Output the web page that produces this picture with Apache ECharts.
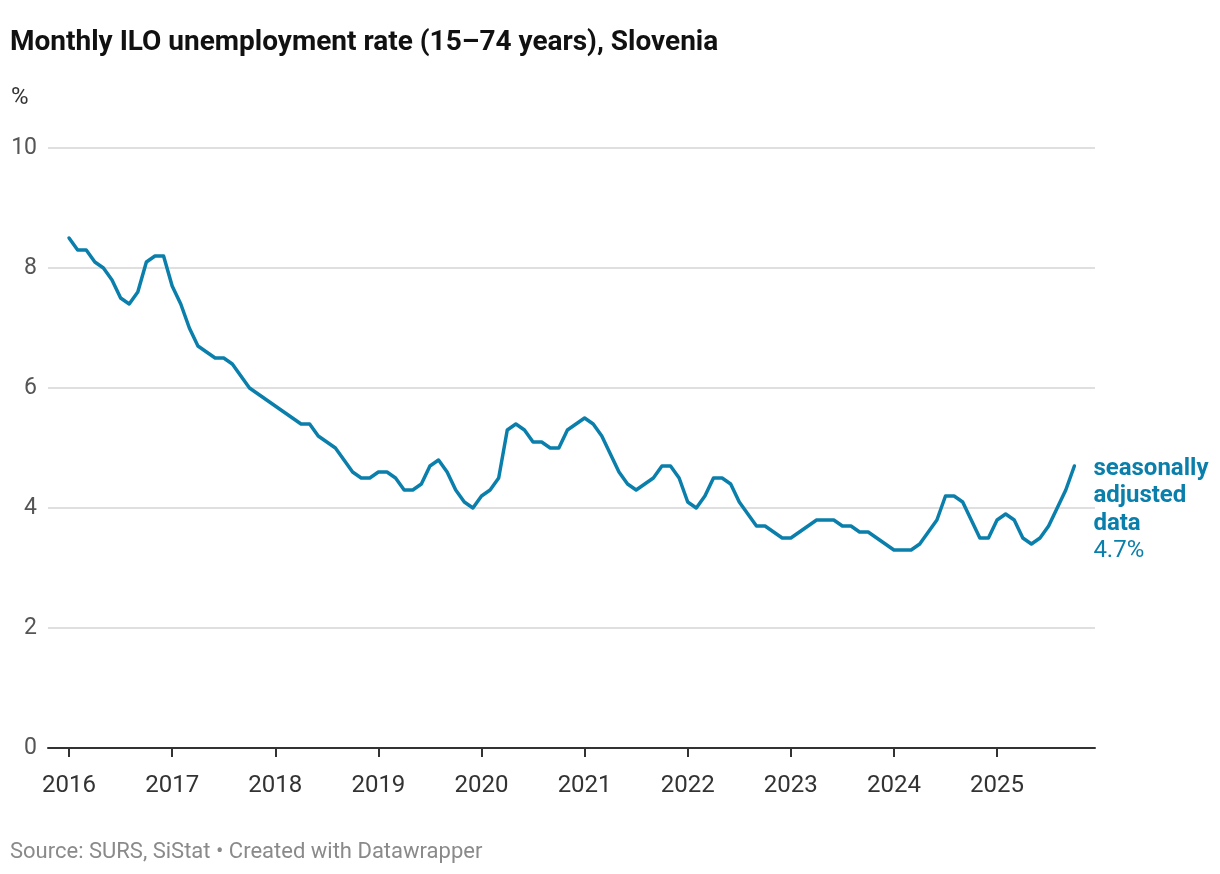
<!DOCTYPE html>
<html>
<head>
<meta charset="utf-8">
<script src="https://cdn.jsdelivr.net/npm/echarts@6/dist/echarts.min.js"></script>
<style>
html,body{margin:0;padding:0;background:#fff;}
#c{width:1220px;height:874px;}
</style>
</head>
<body>
<div id="c"></div>
<script>
// Monthly ILO unemployment rate, seasonally adjusted, Jan 2016 – Oct 2025
var startYear = 2016;
var rates2016 = [8.5, 8.3, 8.3, 8.1, 8.0, 7.8, 7.5, 7.4, 7.6, 8.1, 8.2, 8.2];
var rates2017 = [7.7, 7.4, 7.0, 6.7, 6.6, 6.5, 6.5, 6.4, 6.2, 6.0, 5.9, 5.8];
var rates2018 = [5.7, 5.6, 5.5, 5.4, 5.4, 5.2, 5.1, 5.0, 4.8, 4.6, 4.5, 4.5];
var rates2019 = [4.6, 4.6, 4.5, 4.3, 4.3, 4.4, 4.7, 4.8, 4.6, 4.3, 4.1, 4.0];
var rates2020 = [4.2, 4.3, 4.5, 5.3, 5.4, 5.3, 5.1, 5.1, 5.0, 5.0, 5.3, 5.4];
var rates2021 = [5.5, 5.4, 5.2, 4.9, 4.6, 4.4, 4.3, 4.4, 4.5, 4.7, 4.7, 4.5];
var rates2022 = [4.1, 4.0, 4.2, 4.5, 4.5, 4.4, 4.1, 3.9, 3.7, 3.7, 3.6, 3.5];
var rates2023 = [3.5, 3.6, 3.7, 3.8, 3.8, 3.8, 3.7, 3.7, 3.6, 3.6, 3.5, 3.4];
var rates2024 = [3.3, 3.3, 3.3, 3.4, 3.6, 3.8, 4.2, 4.2, 4.1, 3.8, 3.5, 3.5];
var rates2025 = [3.8, 3.9, 3.8, 3.5, 3.4, 3.5, 3.7, 4.0, 4.3, 4.7];
var yearLabels = ['2016','2017','2018','2019','2020','2021','2022','2023','2024','2025'];
var yTicks = [0, 2, 4, 6, 8, 10];

var allRates = [].concat(rates2016, rates2017, rates2018, rates2019, rates2020,
  rates2021, rates2022, rates2023, rates2024, rates2025);
var seriesData = allRates.map(function (v, i) { return [i, v]; });
var yearTickValues = yearLabels.map(function (y) { return (parseInt(y, 10) - startYear) * 12; });

var FONT = 'Roboto, "Noto Sans", sans-serif';
var BLUE = '#0a7fab';

var chart = echarts.init(document.getElementById('c'), null, {renderer: 'canvas'});
chart.setOption({
  animation: false,
  backgroundColor: '#ffffff',
  textStyle: {fontFamily: FONT},
  title: [
    {text: 'Monthly ILO unemployment rate (15–74 years), Slovenia', left: 10, top: 29, padding: 0,
      textStyle: {fontFamily: FONT, fontSize: 28, fontWeight: 'bold', color: '#111'}},
    {text: '%', left: 11, top: 86, padding: 0,
      textStyle: {fontFamily: FONT, fontSize: 24, fontWeight: 'normal', color: '#333'}},
    {text: 'Source: SURS, SiStat • Created with Datawrapper', left: 10, top: 841, padding: 0,
      textStyle: {fontFamily: FONT, fontSize: 22, fontWeight: 'normal', color: '#8a8a8a'}}
  ],
  grid: {left: 48, right: 125, top: 148, bottom: 126, containLabel: false},
  xAxis: {
    type: 'value',
    min: -2.45,
    max: 119.4,
    axisLine: {show: true, lineStyle: {color: '#333', width: 2}},
    axisTick: {show: true, length: 9, lineStyle: {color: '#333', width: 2},
      customValues: yearTickValues},
    axisLabel: {show: true, customValues: yearTickValues, margin: 26,
      fontFamily: FONT, fontSize: 24, color: '#333',
      formatter: function (v) { return yearLabels[Math.round(v / 12)] || ''; }},
    splitLine: {show: false}
  },
  yAxis: {
    type: 'value',
    min: 0,
    max: 10,
    interval: 2,
    axisLine: {show: false},
    axisTick: {show: false},
    axisLabel: {margin: 11, fontFamily: FONT, fontSize: 23, color: '#555',
      formatter: function (v) { return yTicks.indexOf(v) >= 0 ? String(v) : ''; }},
    splitLine: {show: true, lineStyle: {color: '#d4d4d4', width: 1.5}}
  },
  series: [{
    type: 'line',
    data: seriesData,
    showSymbol: false,
    symbol: 'none',
    lineStyle: {color: BLUE, width: 3.5, join: 'round', cap: 'round'},
    itemStyle: {color: BLUE},
    z: 5,
    endLabel: {
      show: true,
      offset: [11, -11],
      align: 'left',
      verticalAlign: 'top',
      formatter: function (p) {
        return '{b|seasonally}\n{b|adjusted}\n{b|data}\n{n|' + p.value[1].toFixed(1) + '%}';
      },
      rich: {
        b: {fontFamily: FONT, fontSize: 24, fontWeight: 'bold', color: BLUE, lineHeight: 27.5},
        n: {fontFamily: FONT, fontSize: 24, fontWeight: 'normal', color: BLUE, lineHeight: 27.5}
      }
    }
  }]
});
</script>
</body>
</html>
